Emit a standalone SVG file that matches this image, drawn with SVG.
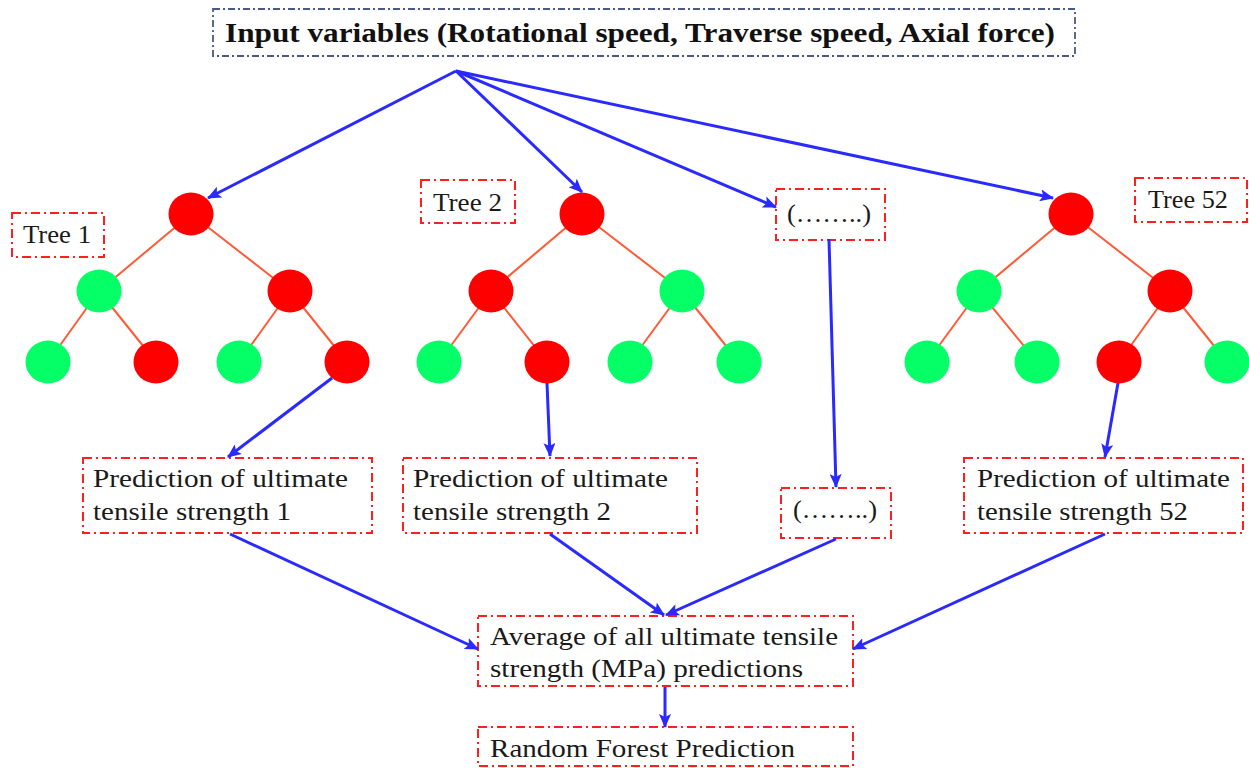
<svg xmlns="http://www.w3.org/2000/svg" width="1249" height="768" viewBox="0 0 1249 768">
<defs>
<style>
.box{fill:none;stroke:#ff1f1f;stroke-width:2;stroke-dasharray:9 4 2 4}
.topbox{fill:none;stroke:#4a5a86;stroke-width:1.8;stroke-dasharray:7 3 2 3}
.t{font-family:"Liberation Serif","DejaVu Serif",serif;font-size:26px;fill:#1a1a1a}
.tb{font-family:"Liberation Serif","DejaVu Serif",serif;font-size:27px;font-weight:bold;fill:#111}
.edge{stroke:#ff5a36;stroke-width:2}
.r{fill:#ff0000}
.g{fill:#05ff66}
.arr{stroke:#2a2aff;stroke-width:3;fill:none;marker-end:url(#ah)}
</style>
<marker id="ah" markerUnits="userSpaceOnUse" markerWidth="14" markerHeight="12" refX="13" refY="6" orient="auto">
<path d="M0,0 L14,6 L0,12 L3,6 z" fill="#2a2aff"/>
</marker>
</defs>

<g id="input">
<rect class="topbox" x="213" y="9" width="862" height="47"/>
<text class="tb" x="225" y="42" textLength="830" lengthAdjust="spacingAndGlyphs">Input variables (Rotational speed, Traverse speed, Axial force)</text>
</g>

<g id="tree1">
<line class="edge" x1="191" y1="214" x2="99" y2="291"/>
<line class="edge" x1="191" y1="214" x2="290" y2="291"/>
<line class="edge" x1="99" y1="291" x2="48" y2="362"/>
<line class="edge" x1="99" y1="291" x2="156" y2="362"/>
<line class="edge" x1="290" y1="291" x2="239" y2="362"/>
<line class="edge" x1="290" y1="291" x2="347" y2="362"/>
<ellipse class="r" cx="191" cy="214" rx="22.5" ry="21.5"/>
<ellipse class="g" cx="99" cy="291" rx="22.5" ry="21.5"/>
<ellipse class="r" cx="290" cy="291" rx="22.5" ry="21.5"/>
<ellipse class="g" cx="48" cy="362" rx="22.5" ry="21.5"/>
<ellipse class="r" cx="156" cy="362" rx="22.5" ry="21.5"/>
<ellipse class="g" cx="239" cy="362" rx="22.5" ry="21.5"/>
<ellipse class="r" cx="347" cy="362" rx="22.5" ry="21.5"/>
</g>
<g id="tree1-label">
<rect class="box" x="12" y="213" width="92" height="44"/>
<text class="t" x="23" y="243" textLength="68" lengthAdjust="spacingAndGlyphs">Tree 1</text>
</g>

<g id="tree2">
<line class="edge" x1="582" y1="214" x2="491" y2="291"/>
<line class="edge" x1="582" y1="214" x2="682" y2="291"/>
<line class="edge" x1="491" y1="291" x2="439" y2="362"/>
<line class="edge" x1="491" y1="291" x2="547" y2="362"/>
<line class="edge" x1="682" y1="291" x2="630" y2="362"/>
<line class="edge" x1="682" y1="291" x2="739" y2="362"/>
<ellipse class="r" cx="582" cy="214" rx="22.5" ry="21.5"/>
<ellipse class="r" cx="491" cy="291" rx="22.5" ry="21.5"/>
<ellipse class="g" cx="682" cy="291" rx="22.5" ry="21.5"/>
<ellipse class="g" cx="439" cy="362" rx="22.5" ry="21.5"/>
<ellipse class="r" cx="547" cy="362" rx="22.5" ry="21.5"/>
<ellipse class="g" cx="630" cy="362" rx="22.5" ry="21.5"/>
<ellipse class="g" cx="739" cy="362" rx="22.5" ry="21.5"/>
</g>
<g id="tree2-label">
<rect class="box" x="421" y="180" width="94" height="43"/>
<text class="t" x="433" y="211" textLength="69" lengthAdjust="spacingAndGlyphs">Tree 2</text>
</g>

<g id="dots-top">
<rect class="box" x="776" y="189" width="109" height="51"/>
<text class="t" x="787" y="222" textLength="84" lengthAdjust="spacingAndGlyphs">(……..)</text>
</g>

<g id="tree52">
<line class="edge" x1="1071" y1="214" x2="979" y2="291"/>
<line class="edge" x1="1071" y1="214" x2="1170" y2="291"/>
<line class="edge" x1="979" y1="291" x2="927" y2="362"/>
<line class="edge" x1="979" y1="291" x2="1037" y2="362"/>
<line class="edge" x1="1170" y1="291" x2="1119" y2="362"/>
<line class="edge" x1="1170" y1="291" x2="1227" y2="362"/>
<ellipse class="r" cx="1071" cy="214" rx="22.5" ry="21.5"/>
<ellipse class="g" cx="979" cy="291" rx="22.5" ry="21.5"/>
<ellipse class="r" cx="1170" cy="291" rx="22.5" ry="21.5"/>
<ellipse class="g" cx="927" cy="362" rx="22.5" ry="21.5"/>
<ellipse class="g" cx="1037" cy="362" rx="22.5" ry="21.5"/>
<ellipse class="r" cx="1119" cy="362" rx="22.5" ry="21.5"/>
<ellipse class="g" cx="1227" cy="362" rx="22.5" ry="21.5"/>
</g>
<g id="tree52-label">
<rect class="box" x="1135" y="178" width="112" height="44"/>
<text class="t" x="1148" y="208" textLength="80" lengthAdjust="spacingAndGlyphs">Tree 52</text>
</g>

<g id="pred1">
<rect class="box" x="83" y="458" width="289" height="75"/>
<text class="t" x="93" y="487" textLength="255" lengthAdjust="spacingAndGlyphs">Prediction of ultimate</text>
<text class="t" x="93" y="520" textLength="198" lengthAdjust="spacingAndGlyphs">tensile strength 1</text>
</g>
<g id="pred2">
<rect class="box" x="403" y="458" width="294" height="75"/>
<text class="t" x="413" y="487" textLength="255" lengthAdjust="spacingAndGlyphs">Prediction of ultimate</text>
<text class="t" x="413" y="520" textLength="198" lengthAdjust="spacingAndGlyphs">tensile strength 2</text>
</g>
<g id="dots-bottom">
<rect class="box" x="781" y="488" width="110" height="50"/>
<text class="t" x="793" y="518" textLength="84" lengthAdjust="spacingAndGlyphs">(……..)</text>
</g>
<g id="pred52">
<rect class="box" x="964" y="458" width="279" height="75"/>
<text class="t" x="977" y="487" textLength="253" lengthAdjust="spacingAndGlyphs">Prediction of ultimate</text>
<text class="t" x="977" y="520" textLength="211" lengthAdjust="spacingAndGlyphs">tensile strength 52</text>
</g>

<g id="average">
<rect class="box" x="478" y="616" width="375" height="70"/>
<text class="t" x="490" y="645" textLength="348" lengthAdjust="spacingAndGlyphs">Average of all ultimate tensile</text>
<text class="t" x="490" y="677" textLength="313" lengthAdjust="spacingAndGlyphs">strength (MPa) predictions</text>
</g>
<g id="final">
<rect class="box" x="478" y="727" width="375" height="39"/>
<text class="t" x="490" y="757" textLength="305" lengthAdjust="spacingAndGlyphs">Random Forest Prediction</text>
</g>

<g id="connectors">
<line class="arr" x1="456" y1="71" x2="208" y2="198"/>
<line class="arr" x1="456" y1="71" x2="582" y2="192"/>
<line class="arr" x1="456" y1="71" x2="776" y2="207"/>
<line class="arr" x1="456" y1="71" x2="1053" y2="198"/>
<line class="arr" x1="332" y1="378" x2="228" y2="457"/>
<line class="arr" x1="547" y1="383" x2="550" y2="456"/>
<line class="arr" x1="829" y1="239" x2="836" y2="487"/>
<line class="arr" x1="1118" y1="383" x2="1105" y2="457"/>
<line class="arr" x1="230" y1="534" x2="478" y2="649"/>
<line class="arr" x1="550" y1="534" x2="664" y2="615"/>
<line class="arr" x1="836" y1="539" x2="666" y2="615"/>
<line class="arr" x1="1105" y1="534" x2="853" y2="649"/>
<line class="arr" x1="665" y1="687" x2="665" y2="727"/>
</g>
</svg>
